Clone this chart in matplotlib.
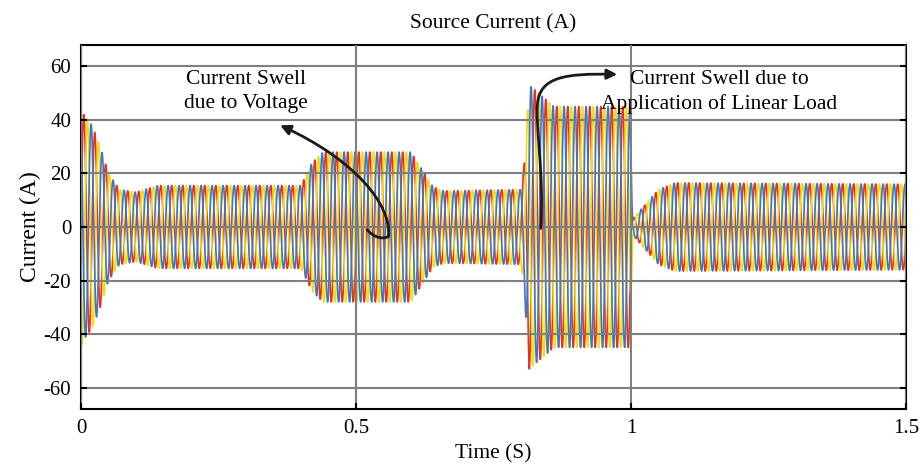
import numpy as np
import matplotlib
matplotlib.use("Agg")
import matplotlib.pyplot as plt
from matplotlib.path import Path
from matplotlib.patches import FancyArrowPatch

# ---- data ----
freq_hz = 50.0
env_time = [0.0, 0.005, 0.02, 0.035, 0.05, 0.07, 0.10, 0.14, 0.40, 0.42, 0.44,
            0.60, 0.64, 0.66, 0.80, 0.805, 0.815, 0.86, 0.998, 1.003, 1.02,
            1.05, 1.08, 1.50]
env_amp = [45, 42, 38, 30, 20, 14, 13, 15.5, 15.5, 24, 28,
           28, 15, 13.5, 14, 22, 53, 45, 45, 3, 7,
           14, 16.5, 16]
phase_names = ["Phase A", "Phase B", "Phase C"]
phase_shift_deg = [0, -120, 120]
phase_colors = ["#e8321e", "#f5dc10", "#3a78c4"]
x_ticks = [0, 0.5, 1, 1.5]
x_tick_labels = ["0", "0.5", "1", "1.5"]
y_ticks = [-60, -40, -20, 0, 20, 40, 60]

plt.rcParams["font.family"] = ["Liberation Serif", "DejaVu Serif"]
plt.rcParams["axes.unicode_minus"] = False

fig = plt.figure(figsize=(9.24, 4.71), dpi=100)
ax = fig.add_axes([0.0877, 0.1316, 0.8928, 0.7729])

t = np.arange(0, 1.5 + 1e-9, 1 / 5000)
env = np.interp(t, env_time, env_amp)
for name, sh, col in zip(phase_names, phase_shift_deg, phase_colors):
    ax.plot(t, env * np.sin(2 * np.pi * freq_hz * t + np.deg2rad(sh)),
            color=col, lw=1.2, label=name, zorder=2)

ax.set_xlim(0, 1.5)
ax.set_ylim(-68, 68)
ax.set_xticks(x_ticks)
ax.set_xticklabels(x_tick_labels)
ax.set_yticks(y_ticks)
ax.set_axisbelow(False)
ax.grid(True, color="#7f7f7f", lw=1.5)
ax.tick_params(direction="in", length=4, width=1.5, labelsize=15,
               left=True, right=True, bottom=True, top=False, pad=7)
for s in ax.spines.values():
    s.set_linewidth(1.5)
    s.set_color("black")

ax.set_title("Source Current (A)", fontsize=15.5, pad=12)
ax.set_xlabel("Time (S)", fontsize=15.5, labelpad=5)
ax.set_ylabel("Current (A)", fontsize=17, labelpad=2)

# annotations
ax.text(0.30, 50.5, "Current Swell\ndue to Voltage", ha="center", va="center",
        fontsize=15.5, linespacing=1.35, zorder=5)
ax.text(1.161, 50.5, "Current Swell due to\nApplication of Linear Load",
        ha="center", va="center", fontsize=15.5, linespacing=1.35, zorder=5)

p1 = Path([(0.52, -1.0), (0.535, -4.5), (0.552, -4.5), (0.559, -3.5),
           (0.565, 8), (0.50, 25), (0.362, 38)],
          [Path.MOVETO, Path.CURVE4, Path.CURVE4, Path.CURVE4,
           Path.CURVE4, Path.CURVE4, Path.CURVE4])
ax.add_patch(FancyArrowPatch(path=p1, arrowstyle="-|>,head_length=6,head_width=3",
                             color="#1a1a1a", lw=2, zorder=6))
p2 = Path([(0.836, -0.5), (0.842, 20), (0.826, 38), (0.830, 46),
           (0.834, 56), (0.88, 57.5), (0.975, 57)],
          [Path.MOVETO, Path.CURVE4, Path.CURVE4, Path.CURVE4,
           Path.CURVE4, Path.CURVE4, Path.CURVE4])
ax.add_patch(FancyArrowPatch(path=p2, arrowstyle="-|>,head_length=6,head_width=3",
                             color="#1a1a1a", lw=2, zorder=6))

fig.savefig("out.png", dpi=100)
